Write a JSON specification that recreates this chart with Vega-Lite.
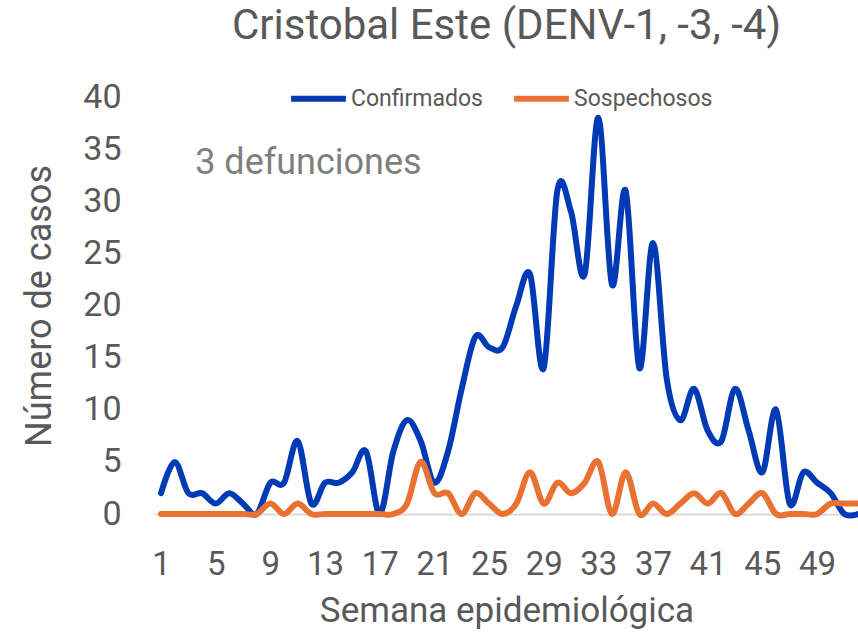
{
  "$schema": "https://vega.github.io/schema/vega-lite/v6.json",
  "width": 703,
  "height": 417,
  "autosize": {"type": "none"},
  "padding": {"left": 155, "top": 97, "right": 0, "bottom": 119},
  "background": "white",
  "config": {
    "view": {"stroke": null},
    "font": "Roboto, sans-serif"
  },
  "title": {
    "text": "Cristobal Este (DENV-1, -3, -4)",
    "fontSize": 42,
    "fontWeight": "normal",
    "color": "#595959",
    "anchor": "middle",
    "frame": "group",
    "baseline": "alphabetic",
    "offset": -13
  },
  "datasets": {
    "casos": [
      {"semana": 1, "serie": "Confirmados", "casos": 2},
      {"semana": 2, "serie": "Confirmados", "casos": 5},
      {"semana": 3, "serie": "Confirmados", "casos": 2},
      {"semana": 4, "serie": "Confirmados", "casos": 2},
      {"semana": 5, "serie": "Confirmados", "casos": 1},
      {"semana": 6, "serie": "Confirmados", "casos": 2},
      {"semana": 7, "serie": "Confirmados", "casos": 1},
      {"semana": 8, "serie": "Confirmados", "casos": 0},
      {"semana": 9, "serie": "Confirmados", "casos": 3},
      {"semana": 10, "serie": "Confirmados", "casos": 3},
      {"semana": 11, "serie": "Confirmados", "casos": 7},
      {"semana": 12, "serie": "Confirmados", "casos": 1},
      {"semana": 13, "serie": "Confirmados", "casos": 3},
      {"semana": 14, "serie": "Confirmados", "casos": 3},
      {"semana": 15, "serie": "Confirmados", "casos": 4},
      {"semana": 16, "serie": "Confirmados", "casos": 6},
      {"semana": 17, "serie": "Confirmados", "casos": 0},
      {"semana": 18, "serie": "Confirmados", "casos": 6},
      {"semana": 19, "serie": "Confirmados", "casos": 9},
      {"semana": 20, "serie": "Confirmados", "casos": 7},
      {"semana": 21, "serie": "Confirmados", "casos": 3},
      {"semana": 22, "serie": "Confirmados", "casos": 6},
      {"semana": 23, "serie": "Confirmados", "casos": 12},
      {"semana": 24, "serie": "Confirmados", "casos": 17},
      {"semana": 25, "serie": "Confirmados", "casos": 16},
      {"semana": 26, "serie": "Confirmados", "casos": 16},
      {"semana": 27, "serie": "Confirmados", "casos": 20},
      {"semana": 28, "serie": "Confirmados", "casos": 23},
      {"semana": 29, "serie": "Confirmados", "casos": 14},
      {"semana": 30, "serie": "Confirmados", "casos": 31},
      {"semana": 31, "serie": "Confirmados", "casos": 29},
      {"semana": 32, "serie": "Confirmados", "casos": 23},
      {"semana": 33, "serie": "Confirmados", "casos": 38},
      {"semana": 34, "serie": "Confirmados", "casos": 22},
      {"semana": 35, "serie": "Confirmados", "casos": 31},
      {"semana": 36, "serie": "Confirmados", "casos": 14},
      {"semana": 37, "serie": "Confirmados", "casos": 26},
      {"semana": 38, "serie": "Confirmados", "casos": 13},
      {"semana": 39, "serie": "Confirmados", "casos": 9},
      {"semana": 40, "serie": "Confirmados", "casos": 12},
      {"semana": 41, "serie": "Confirmados", "casos": 8},
      {"semana": 42, "serie": "Confirmados", "casos": 7},
      {"semana": 43, "serie": "Confirmados", "casos": 12},
      {"semana": 44, "serie": "Confirmados", "casos": 8},
      {"semana": 45, "serie": "Confirmados", "casos": 4},
      {"semana": 46, "serie": "Confirmados", "casos": 10},
      {"semana": 47, "serie": "Confirmados", "casos": 1},
      {"semana": 48, "serie": "Confirmados", "casos": 4},
      {"semana": 49, "serie": "Confirmados", "casos": 3},
      {"semana": 50, "serie": "Confirmados", "casos": 2},
      {"semana": 51, "serie": "Confirmados", "casos": 0},
      {"semana": 52, "serie": "Confirmados", "casos": 0},
      {"semana": 1, "serie": "Sospechosos", "casos": 0},
      {"semana": 2, "serie": "Sospechosos", "casos": 0},
      {"semana": 3, "serie": "Sospechosos", "casos": 0},
      {"semana": 4, "serie": "Sospechosos", "casos": 0},
      {"semana": 5, "serie": "Sospechosos", "casos": 0},
      {"semana": 6, "serie": "Sospechosos", "casos": 0},
      {"semana": 7, "serie": "Sospechosos", "casos": 0},
      {"semana": 8, "serie": "Sospechosos", "casos": 0},
      {"semana": 9, "serie": "Sospechosos", "casos": 1},
      {"semana": 10, "serie": "Sospechosos", "casos": 0},
      {"semana": 11, "serie": "Sospechosos", "casos": 1},
      {"semana": 12, "serie": "Sospechosos", "casos": 0},
      {"semana": 13, "serie": "Sospechosos", "casos": 0},
      {"semana": 14, "serie": "Sospechosos", "casos": 0},
      {"semana": 15, "serie": "Sospechosos", "casos": 0},
      {"semana": 16, "serie": "Sospechosos", "casos": 0},
      {"semana": 17, "serie": "Sospechosos", "casos": 0},
      {"semana": 18, "serie": "Sospechosos", "casos": 0},
      {"semana": 19, "serie": "Sospechosos", "casos": 1},
      {"semana": 20, "serie": "Sospechosos", "casos": 5},
      {"semana": 21, "serie": "Sospechosos", "casos": 2},
      {"semana": 22, "serie": "Sospechosos", "casos": 2},
      {"semana": 23, "serie": "Sospechosos", "casos": 0},
      {"semana": 24, "serie": "Sospechosos", "casos": 2},
      {"semana": 25, "serie": "Sospechosos", "casos": 1},
      {"semana": 26, "serie": "Sospechosos", "casos": 0},
      {"semana": 27, "serie": "Sospechosos", "casos": 1},
      {"semana": 28, "serie": "Sospechosos", "casos": 4},
      {"semana": 29, "serie": "Sospechosos", "casos": 1},
      {"semana": 30, "serie": "Sospechosos", "casos": 3},
      {"semana": 31, "serie": "Sospechosos", "casos": 2},
      {"semana": 32, "serie": "Sospechosos", "casos": 3},
      {"semana": 33, "serie": "Sospechosos", "casos": 5},
      {"semana": 34, "serie": "Sospechosos", "casos": 0},
      {"semana": 35, "serie": "Sospechosos", "casos": 4},
      {"semana": 36, "serie": "Sospechosos", "casos": 0},
      {"semana": 37, "serie": "Sospechosos", "casos": 1},
      {"semana": 38, "serie": "Sospechosos", "casos": 0},
      {"semana": 39, "serie": "Sospechosos", "casos": 1},
      {"semana": 40, "serie": "Sospechosos", "casos": 2},
      {"semana": 41, "serie": "Sospechosos", "casos": 1},
      {"semana": 42, "serie": "Sospechosos", "casos": 2},
      {"semana": 43, "serie": "Sospechosos", "casos": 0},
      {"semana": 44, "serie": "Sospechosos", "casos": 1},
      {"semana": 45, "serie": "Sospechosos", "casos": 2},
      {"semana": 46, "serie": "Sospechosos", "casos": 0},
      {"semana": 47, "serie": "Sospechosos", "casos": 0},
      {"semana": 48, "serie": "Sospechosos", "casos": 0},
      {"semana": 49, "serie": "Sospechosos", "casos": 0},
      {"semana": 50, "serie": "Sospechosos", "casos": 1},
      {"semana": 51, "serie": "Sospechosos", "casos": 1},
      {"semana": 52, "serie": "Sospechosos", "casos": 1}
    ],
    "nota": [
      {"semana": 3.5, "casos": 33.7, "texto": "3 defunciones"}
    ]
  },
  "layer": [
    {
      "data": {"name": "casos"},
      "mark": {"type": "line", "interpolate": "cardinal", "strokeWidth": 6, "strokeCap": "round", "strokeJoin": "round"},
      "encoding": {
        "x": {
          "field": "semana",
          "type": "quantitative",
          "scale": {"domain": [0.56, 52], "nice": false, "zero": false},
          "axis": {
            "values": [1, 5, 9, 13, 17, 21, 25, 29, 33, 37, 41, 45, 49],
            "title": "Semana epidemiológica",
            "titleFontSize": 35,
            "titleFontWeight": "normal",
            "titleColor": "#595959",
            "titlePadding": 12,
            "labelFontSize": 33,
            "labelColor": "#595959",
            "labelPadding": 34,
            "labelBaseline": "top",
            "ticks": false,
            "grid": false,
            "domainColor": "#d9d9d9",
            "domainWidth": 2,
            "labelFlush": false,
            "labelOverlap": false
          }
        },
        "y": {
          "field": "casos",
          "type": "quantitative",
          "scale": {"domain": [0, 40], "nice": false},
          "axis": {
            "values": [0, 5, 10, 15, 20, 25, 30, 35, 40],
            "title": "Número de casos",
            "titleFontSize": 36,
            "titleFontWeight": "normal",
            "titleColor": "#595959",
            "titlePadding": 24,
            "labelFontSize": 34,
            "labelColor": "#595959",
            "labelPadding": 34,
            "ticks": false,
            "grid": false,
            "domain": false
          }
        },
        "color": {
          "field": "serie",
          "type": "nominal",
          "scale": {"domain": ["Confirmados", "Sospechosos"], "range": ["#003BB5", "#E97132"]},
          "legend": {
            "title": null,
            "orient": "none",
            "legendX": 133,
            "legendY": -29,
            "direction": "horizontal",
            "symbolType": "stroke",
            "symbolStrokeWidth": 6,
            "symbolSize": 3000,
            "labelFontSize": 23,
            "labelColor": "#595959",
            "labelOffset": 2,
            "columnPadding": 19
          }
        }
      }
    },
    {
      "data": {"name": "nota"},
      "mark": {"type": "text", "align": "left", "baseline": "middle", "fontSize": 36, "color": "#7f7f7f"},
      "encoding": {
        "x": {"field": "semana", "type": "quantitative"},
        "y": {"field": "casos", "type": "quantitative"},
        "text": {"field": "texto"}
      }
    }
  ]
}
